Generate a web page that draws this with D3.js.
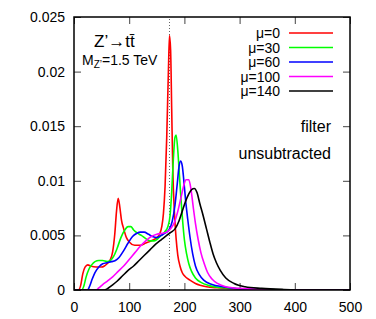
<!DOCTYPE html>
<html>
<head>
<meta charset="utf-8">
<script src="https://cdn.jsdelivr.net/npm/d3@7"></script>
<style>
  body { margin: 0; background: #fff; }
  text { font-family: "Liberation Sans", Arial, sans-serif; }
</style>
</head>
<body>
<div id="chart"></div>
<script>
// series: [x, y]
var mu0 = [[0,0],[8,0],[12,0.0004],[16,0.0015],[20,0.0021],[25,0.0023],[30,0.0022],[40,0.0021],[50,0.0021],[55,0.0022],[60,0.0024],[65,0.0027],[70,0.0035],[74,0.0052],[77,0.0072],[80,0.0084],[83,0.0076],[86,0.0064],[90,0.0056],[95,0.0048],[100,0.0044],[110,0.0041],[120,0.0041],[130,0.0043],[140,0.0045],[150,0.0048],[155,0.0051],[159,0.0058],[162,0.0070],[165,0.0095],[168,0.0140],[171,0.0200],[173,0.0233],[175,0.0220],[177,0.0165],[179,0.0110],[182,0.0070],[185,0.0047],[188,0.0032],[192,0.0022],[196,0.0016],[200,0.0013],[210,0.0009],[220,0.0006],[240,0.0003],[260,0.0002],[300,0.0001],[350,0],[500,0]];
var mu30 = [[0,0],[14,0],[18,0.0004],[22,0.0012],[27,0.0019],[32,0.0023],[38,0.0026],[45,0.0027],[52,0.0027],[60,0.0026],[66,0.0027],[72,0.0031],[78,0.0038],[85,0.0048],[92,0.0055],[98,0.0058],[103,0.0058],[108,0.0055],[115,0.0052],[122,0.0050],[130,0.0047],[138,0.0045],[145,0.0045],[152,0.0047],[158,0.0050],[164,0.0053],[170,0.0058],[174,0.0068],[177,0.0090],[180,0.0120],[183,0.0140],[185,0.0142],[188,0.0128],[191,0.0105],[194,0.0082],[197,0.0062],[200,0.0046],[204,0.0033],[208,0.0024],[213,0.0017],[220,0.0011],[230,0.0007],[245,0.0004],[270,0.0002],[320,0.0001],[400,0],[500,0]];
var mu60 = [[0,0],[24,0],[28,0.0003],[33,0.0010],[38,0.0016],[45,0.0021],[52,0.0024],[60,0.0025],[68,0.0026],[75,0.0027],[82,0.0030],[90,0.0036],[98,0.0043],[106,0.0049],[114,0.0052],[120,0.0053],[127,0.0053],[135,0.0051],[142,0.0049],[150,0.0048],[158,0.0050],[165,0.0052],[172,0.0055],[178,0.0063],[183,0.0078],[187,0.0097],[190,0.0112],[193,0.0118],[196,0.0114],[199,0.0100],[202,0.0083],[206,0.0065],[210,0.0049],[215,0.0033],[220,0.0022],[227,0.0014],[235,0.0009],[250,0.0005],[270,0.0003],[300,0.0001],[350,0.00005],[400,0],[500,0]];
var mu100 = [[0,0],[40,0],[45,0.0002],[52,0.0005],[60,0.0008],[70,0.0012],[80,0.0017],[90,0.0022],[100,0.0028],[110,0.0034],[120,0.0040],[130,0.0045],[140,0.0049],[150,0.0051],[160,0.0052],[168,0.0053],[175,0.0056],[182,0.0062],[188,0.0072],[194,0.0085],[199,0.0096],[203,0.0101],[208,0.0101],[212,0.0092],[216,0.0076],[220,0.0061],[225,0.0046],[230,0.0034],[236,0.0024],[242,0.0016],[250,0.0010],[260,0.0006],[275,0.0003],[300,0.00015],[350,0.00005],[400,0],[500,0]];
var mu140 = [[0,0],[55,0],[60,0.0001],[68,0.0004],[78,0.0008],[88,0.0013],[98,0.0018],[108,0.0022],[118,0.0027],[128,0.0032],[138,0.0037],[148,0.0042],[158,0.0046],[168,0.0050],[176,0.0053],[183,0.0056],[190,0.0063],[196,0.0072],[202,0.0081],[208,0.0088],[213,0.0092],[218,0.0093],[223,0.0089],[228,0.0079],[234,0.0068],[240,0.0056],[246,0.0044],[252,0.0033],[258,0.0025],[265,0.0018],[275,0.0011],[290,0.0006],[310,0.0003],[340,0.00015],[380,0.00005],[420,0],[500,0]];

var seriesNames = ["\u03bc=0", "\u03bc=30", "\u03bc=60", "\u03bc=100", "\u03bc=140"];
var seriesColors = ["#ff0000", "#00ff00", "#0000ff", "#ff00ff", "#000000"];
var xTicks = [0, 100, 200, 300, 400, 500];
var yTicks = [0, 0.005, 0.01, 0.015, 0.02, 0.025];
var topMass = 173;

var width = 376, height = 319;
var margin = {left: 74, right: 26, top: 17, bottom: 29};

var svg = d3.select("#chart").append("svg")
  .attr("width", width).attr("height", height);

var x = d3.scaleLinear().domain([0, 500]).range([margin.left, width - margin.right]);
var y = d3.scaleLinear().domain([0, 0.025]).range([height - margin.bottom, margin.top]);

svg.append("defs").append("clipPath").attr("id", "clip")
  .append("rect")
  .attr("x", x(0)).attr("y", y(0.025))
  .attr("width", x(500) - x(0)).attr("height", y(0) - y(0.025));

// axes, ticks inward on all sides
var tickLen = 7;
var gx = svg.append("g").attr("transform", "translate(0," + y(0) + ")")
  .call(d3.axisBottom(x).tickValues(xTicks).tickSize(-tickLen).tickPadding(12).tickFormat(d3.format("d")));
var gy = svg.append("g").attr("transform", "translate(" + x(0) + ",0)")
  .call(d3.axisLeft(y).tickValues(yTicks).tickSize(-tickLen).tickPadding(9).tickFormat(function(d){ return d === 0 ? "0" : d3.format("")(+d.toFixed(3)); }));
var gxt = svg.append("g").attr("transform", "translate(0," + y(0.025) + ")")
  .call(d3.axisTop(x).tickValues(xTicks).tickSize(-tickLen).tickFormat(""));
var gyr = svg.append("g").attr("transform", "translate(" + x(500) + ",0)")
  .call(d3.axisRight(y).tickValues(yTicks).tickSize(-tickLen).tickFormat(""));

[gx, gy, gxt, gyr].forEach(function(g){
  g.select(".domain").remove();
  g.selectAll(".tick line").attr("stroke", "#444").attr("stroke-width", 1);
  g.selectAll(".tick text").attr("font-size", 14).attr("fill", "#000")
    .style("font-family", "'Liberation Sans', Arial, sans-serif");
});

// dotted top mass line
svg.append("line")
  .attr("x1", x(topMass)).attr("x2", x(topMass))
  .attr("y1", y(0)).attr("y2", y(0.025))
  .attr("stroke", "#666").attr("stroke-width", 1)
  .attr("stroke-dasharray", "1,2");

var line = d3.line()
  .x(function(d){ return x(d[0]); })
  .y(function(d){ return y(d[1]); })
  .curve(d3.curveMonotoneX);

var allSeries = [mu0, mu30, mu60, mu100, mu140];
svg.append("g").attr("clip-path", "url(#clip)")
  .selectAll("path").data(allSeries).enter().append("path")
  .attr("d", line)
  .attr("fill", "none")
  .attr("stroke", function(d, i){ return seriesColors[i]; })
  .attr("stroke-width", 1.6);

// frame
svg.append("rect")
  .attr("x", x(0)).attr("y", y(0.025))
  .attr("width", x(500) - x(0)).attr("height", y(0) - y(0.025))
  .attr("fill", "none").attr("stroke", "#000").attr("stroke-width", 1.5);

// legend
var leg = svg.append("g");
seriesNames.forEach(function(name, i){
  var ly = 33 + i * 14.5;
  leg.append("text").attr("x", 280).attr("y", ly + 5)
    .attr("text-anchor", "end").attr("font-size", 14).text(name);
  leg.append("line").attr("x1", 289).attr("x2", 333)
    .attr("y1", ly).attr("y2", ly)
    .attr("stroke", seriesColors[i]).attr("stroke-width", 1.6);
});

svg.append("text").attr("x", 331).attr("y", 132).attr("text-anchor", "end")
  .attr("font-size", 16).text("filter");
svg.append("text").attr("x", 331).attr("y", 159).attr("text-anchor", "end")
  .attr("font-size", 16).text("unsubtracted");

// process labels
svg.append("text").attr("x", 94).attr("y", 47).attr("font-size", 17)
  .text("Z\u2019\u2192tt\u0304");
var m = svg.append("text").attr("x", 82).attr("y", 65).attr("font-size", 14);
m.append("tspan").text("M");
m.append("tspan").attr("dy", 3).attr("font-size", 10).text("Z\u2019");
m.append("tspan").attr("dy", -3).text("=1.5 TeV");
</script>
</body>
</html>
